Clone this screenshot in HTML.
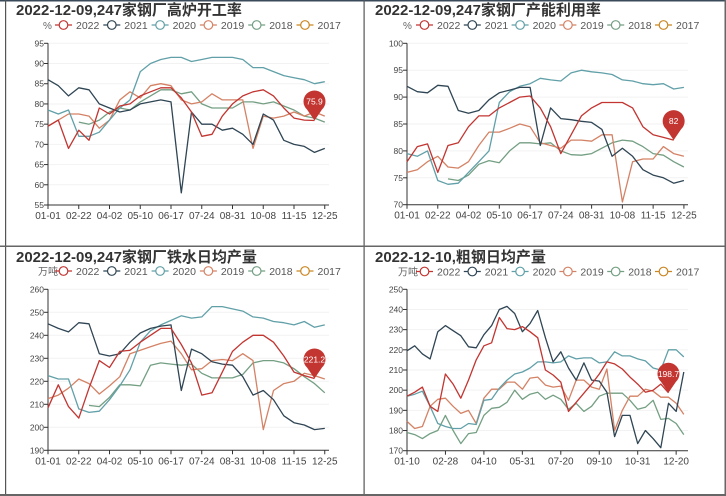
<!DOCTYPE html>
<html><head><meta charset="utf-8"><style>
body{margin:0;background:#fff;width:726px;height:496px;overflow:hidden;font-family:"Liberation Sans","Noto Sans CJK SC",sans-serif}
svg{display:block}
</style></head><body>
<svg id="chart" width="726" height="496" viewBox="0 0 726 496" xmlns="http://www.w3.org/2000/svg"></svg>
<script>
const years=["2022","2021","2020","2019","2018","2017"];
const colors=["#c23531","#2f4554","#61a0a8","#d48265","#749f83","#ca8622"];
const xLabels13=["01-01","02-22","04-02","05-10","06-17","07-24","08-31","10-08","11-15","12-25"];
const xTickIdx13=[0,6,12,18,24,30,36,42,48,54];
const xLabels4=["01-10","02-28","04-10","05-31","07-20","09-10","10-31","12-20"];
const xTickIdx4=[0,5,10,15,20,25,30,35];
const yTicks1=[55,60,65,70,75,80,85,90,95];
const yTicks2=[70,75,80,85,90,95,100];
const yTicks3=[190,200,210,220,230,240,250,260];
const yTicks4=[170,180,190,200,210,220,230,240,250];

const p1_2022=[74.5,76,69,73.5,71,79,77.5,79.5,80,82,83,84,84,81.5,78,72,72.5,77,80,82,83,83.5,82,79,76.5,76,75.9];
const p1_2021=[86,84.5,82,84,83.5,80,79,78,78.5,80,80.5,81,80.5,58,78,75,75,73.5,74,72.5,70,77.5,76,71,70,69.5,68,69];
const p1_2020=[78.5,77.5,78.5,72,72,73,76,79,81,88,90,91,91.5,91.5,90.5,91,91.5,91.5,91.5,91,89,89,88,87,86.5,86,85,85.5];
const p1_2019=[74.5,76,77.5,77.5,77,74,76,81,83,81.5,84.5,85,84.5,81,80,80.5,82.5,81,81,81,69,77,76.5,77,78,77,78,77];
const p1_2018=[null,null,null,75.5,75,76,78,79,78.5,80.5,82,83.5,83.5,82.5,83,80,79,79,79,80.5,80.5,80,80.5,79.5,78.5,77,76.5,75.5];

const p2_2022=[78,80.8,81.3,76,81,81.5,84.5,86.5,86.5,88,89,90,90.2,88,84.5,79.5,83,86.5,88,89,89,89,88,84.5,83,82.5,82];
const p2_2021=[92,91,90.8,92.2,92,87.5,87,87.5,89.5,90.8,91.3,91.8,91.8,81,88,86,85.8,85.5,85.3,84,79,80.5,79,76.5,75.5,75,74,74.5];
const p2_2020=[79.5,79,80,74.5,73.8,74,76,78,80,89,91,92,92.5,93.5,93.2,93,94.5,95,94.7,94.5,94.2,93.2,93,92.5,92.3,92.5,91.5,91.8];
const p2_2019=[76,76.5,78,79,77,76.8,78,81,83.5,83.5,84.2,85,84.5,81.5,81,80.5,82,82,81.8,83,83,70.5,78,78.5,78.5,80.8,79.5,79];
const p2_2018=[null,null,null,null,74.8,74.5,75.5,77.5,78.2,77.8,80,81.5,81.5,81.3,81.5,80,79.3,79.2,79.5,80.5,81.5,82,81.8,80.8,79.5,79.2,78,77];

const p3_2022=[208.5,218.5,209,204,217,229,226,233,233.5,237,240,243,243,236,228,214,215,224,233,237,240,240,237,231,224,222.5,221.2];
const p3_2021=[245,243,241.5,245.5,245,232,231,232,237,241,243,244,244.5,216,234,232,228.5,227.5,227,222,214,216,212,205,202,201,199,199.5];
const p3_2020=[222.5,221,221,208,206.5,207,212,218,225,237,242,244.5,246.5,248.5,247.5,248,252.5,252.5,251.5,250.5,248,247.5,246,245.5,244.5,246,243.5,244.5];
const p3_2019=[212.5,214,217,221,219,214.5,218,222,232,233.5,235,236.5,237.5,232,225,225.5,229,229.5,229,232,229,199,216,219,220,223.5,222.5,221];
const p3_2018=[null,null,null,null,209.5,209,213,218.5,218.5,218,227,228,227.5,227,227.5,223.5,221.5,221.5,221.5,223,228,229,229,228,225.5,222,219,215];

const p4_2022=[197,199,201.5,192,189.5,208,203,196,205,215,222,223.5,236,230.5,230,231.5,229,226,210,207.5,204,189.5,194,198.5,203,208,214,213,210.5,206.5,203,199,200,203,198.7];
const p4_2021=[219.5,222,218,215.5,229,232,229.5,227,221.5,221,227.5,232,240,241.5,238,229,233,239.5,226,214,219,211,205,213.5,205,204.5,199,177,187.5,187.5,173.5,180,176,171.5,193.5,189.5,209];
const p4_2020=[197,198,199.5,192,183.5,182,181,181,183.5,183,195,195.5,201,205,208,209,211,214,214,213.5,214,217,215.5,216,216,213.5,214,219,217,217,215.5,214.5,211,210,220,220,216.5];
const p4_2019=[184.5,181,182,192,195.5,196,192,188.5,190,183.5,196,200.5,200.5,204,204,200.5,206,206.5,202.5,201.5,202,195,205,205,201.5,200.5,210.5,180,190,197,197,200.5,199.5,196.5,196.5,193.5,188];
const p4_2018=[179,178,176,178.5,180,187.5,180,173.5,178.5,179,187.5,191,191.5,194,200,195.5,198,199,195.5,197.5,195.5,190.5,193.5,189.5,192,197,198.5,198.5,198.5,195,190.5,191.5,195,185.5,186,183.5,178];

const NS="http://www.w3.org/2000/svg";
const svg=document.getElementById('chart');
function mk(tag,attrs,parent){const e=document.createElementNS(NS,tag);for(const k in attrs)e.setAttribute(k,attrs[k]);(parent||svg).appendChild(e);return e;}

// frame lines
const frame=mk('g',{});


mk('rect',{x:0,y:0,width:726,height:1.5,fill:'#3a4a5a'},frame);
mk('rect',{x:5,y:0,width:1.2,height:496,fill:'#555'},frame);
mk('rect',{x:363.5,y:0,width:1.2,height:496,fill:'#555'},frame);
mk('rect',{x:0,y:245.5,width:726,height:1.5,fill:'#666'},frame);
mk('rect',{x:0,y:494,width:726,height:2,fill:'#666'},frame);
mk('rect',{x:724.5,y:0,width:1.5,height:496,fill:'#666'},frame);

function panel(cfg){
  const g=mk('g',{});
  
  
  const yScale=v=>cfg.yBot-(v-cfg.yMin)/(cfg.yMax-cfg.yMin)*(cfg.yBot-cfg.yTop);
  const xIdx=i=>cfg.x0+i*cfg.pxPerIdx;
  const t=mk('text',{x:cfg.titleX,y:cfg.titleY,'font-size':15,'font-weight':'bold',fill:'#333'},g);
  t.textContent=cfg.title;
  
  
  const u=mk('text',{x:cfg.unitX,y:cfg.legendY+4,'font-size':10,fill:'#666'},g);
  u.textContent=cfg.unit;
  
  
  // grid + y labels
  cfg.yTicks.forEach(v=>{
    const y=yScale(v);
    if(v!==cfg.yMin){
      const gl=mk('line',{x1:cfg.x0,x2:cfg.xEnd,y1:y,y2:y,stroke:'#f2f2f2','stroke-width':1},g);
      
      
    }
    mk('line',{x1:cfg.x0-4,x2:cfg.x0,y1:y,y2:y,stroke:'#333','stroke-width':1},g);
    const l=mk('text',{x:cfg.x0-4,y:y+3,'font-size':8.5,fill:'#444','text-anchor':'end'},g);
    l.textContent=v;
    
    
  });
  const ya=mk('line',{x1:cfg.x0,x2:cfg.x0,y1:cfg.yTop,y2:cfg.yBot,stroke:'#333','stroke-width':1},g);
  
  
  const xa=mk('line',{x1:cfg.x0,x2:cfg.xEnd,y1:cfg.yBot,y2:cfg.yBot,stroke:'#333','stroke-width':1},g);
  
  
  cfg.xLabels.forEach((lab,k)=>{
    const x=xIdx(cfg.xTickIdx[k]);
    mk('line',{x1:x,x2:x,y1:cfg.yBot,y2:cfg.yBot+4,stroke:'#333','stroke-width':1},g);
    const l=mk('text',{x:x,y:cfg.yBot+14,'font-size':10,fill:'#444','text-anchor':'middle'},g);
    l.textContent=lab;
    
    
  });
  // legend
  years.forEach((yr,k)=>{
    const lx=cfg.legendX+k*cfg.legendGap, ly=cfg.legendY;
    const lg=mk('g',{},g);
    
    
    mk('line',{x1:lx,x2:lx+17,y1:ly,y2:ly,stroke:colors[k],'stroke-width':1.2},lg);
    mk('circle',{cx:lx+8.5,cy:ly,r:4.3,fill:'#fff',stroke:colors[k],'stroke-width':1.2},lg);
    const tx=mk('text',{x:lx+21,y:ly+4,'font-size':10.5,fill:'#555'},lg);
    tx.textContent=yr;
  });
  // series (draw back to front)
  const order=[4,3,2,1,0];
  order.forEach(si=>{
    const data=cfg.series[si]; if(!data)return;
    let d='',pen=false;
    data.forEach((v,i)=>{
      if(v===null){pen=false;return;}
      const x=xIdx(i*cfg.step), y=yScale(v);
      d+=(pen?'L':'M')+x.toFixed(1)+','+y.toFixed(1);
      pen=true;
    });
    const p=mk('path',{d:d,fill:'none',stroke:colors[si],'stroke-width':1.3,'stroke-linejoin':'round'},g);
    
    
  });
  // marker on 2022 last point
  const s=cfg.series[0]; const li=s.length-1;
  const mx=xIdx(li*cfg.step), my=yScale(s[li]);
  const pin=mk('g',{},g);
  
  
  const cy=my-19, r=11;
  mk('path',{d:`M${mx},${my} L${mx-7.5},${cy+8} A${r},${r} 0 1 1 ${mx+7.5},${cy+8} Z`,fill:'#c23531'},pin);
  const mt=mk('text',{x:mx,y:cy+3,'font-size':8.5,fill:'#fff','text-anchor':'middle'},pin);
  mt.textContent=s[li];
}

panel({name:'blast-furnace-rate-chart',title:'2022-12-09,247家钢厂高炉开工率',titleX:16,titleY:15,unit:'%',unitX:43,legendX:55,legendGap:48.3,legendY:25,
  x0:48,pxPerIdx:5.125,step:2,xEnd:329,yMin:55,yMax:95,yTop:43.3,yBot:205,yTicks:yTicks1,xLabels:xLabels13,xTickIdx:xTickIdx13,
  series:[p1_2022,p1_2021,p1_2020,p1_2019,p1_2018,null]});
panel({name:'capacity-utilization-chart',title:'2022-12-09,247家钢厂产能利用率',titleX:375,titleY:15,unit:'%',unitX:403,legendX:416,legendGap:47.8,legendY:25,
  x0:407,pxPerIdx:5.128,step:2,xEnd:688,yMin:70,yMax:100,yTop:43.3,yBot:204.7,yTicks:yTicks2,xLabels:xLabels13,xTickIdx:xTickIdx13,
  series:[p2_2022,p2_2021,p2_2020,p2_2019,p2_2018,null]});
panel({name:'hot-metal-output-chart',title:'2022-12-09,247家钢厂铁水日均产量',titleX:16,titleY:262,unit:'万吨',unitX:38,legendX:55,legendGap:48.3,legendY:271,
  x0:48,pxPerIdx:5.125,step:2,xEnd:329,yMin:190,yMax:260,yTop:289.3,yBot:450.3,yTicks:yTicks3,xLabels:xLabels13,xTickIdx:xTickIdx13,
  series:[p3_2022,p3_2021,p3_2020,p3_2019,p3_2018,null]});
panel({name:'crude-steel-output-chart',title:'2022-12-10,粗钢日均产量',titleX:375,titleY:262,unit:'万吨',unitX:398,legendX:416,legendGap:47.8,legendY:271.5,
  x0:407,pxPerIdx:7.69,step:1,xEnd:688,yMin:170,yMax:250,yTop:289.3,yBot:450.7,yTicks:yTicks4,xLabels:xLabels4,xTickIdx:xTickIdx4,
  series:[p4_2022,p4_2021,p4_2020,p4_2019,p4_2018,null]});
</script>
</body></html>
